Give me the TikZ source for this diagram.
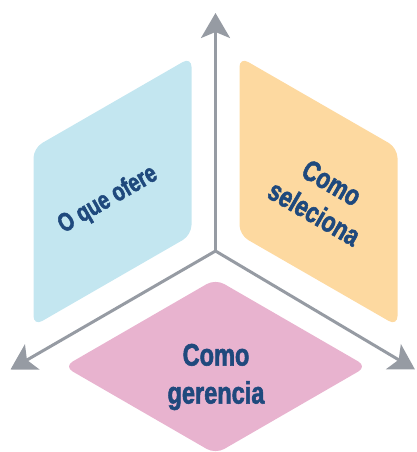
\documentclass[tikz,border=0pt]{standalone}
\usepackage{fontspec}
\newfontfamily\cond[FakeStretch=0.76,FakeBold=1.8]{Liberation Sans Bold}
\usetikzlibrary{arrows.meta}
\definecolor{faceblue}{RGB}{195,230,240}
\definecolor{faceorange}{RGB}{253,217,160}
\definecolor{facepink}{RGB}{232,179,207}
\definecolor{axisgray}{RGB}{150,155,163}
\definecolor{textblue}{RGB}{31,73,125}
\tikzset{
  face/.style={rounded corners=10pt, draw=none},
  axis/.style={draw=axisgray, line width=3pt, -{Stealth[length=25pt,width=29pt,inset=6pt]}},
  lbl/.style={text=textblue, align=center, inner sep=0pt},
}
\begin{document}
\begin{tikzpicture}[x=1pt,y=-1pt]
\useasboundingbox (0,0) rectangle (417,452);
\clip (0,0) rectangle (417,452);
% faces
\fill[face, faceblue] (191.5,57) -- (191.5,235) -- (33.5,326) -- (33.5,148) -- cycle;
\fill[face, faceorange] (239.5,57) -- (397.5,148) -- (397.5,326) -- (239.5,235) -- cycle;
\fill[face, facepink] (215.5,279) -- (367,366.5) -- (215.5,454) -- (64,366.5) -- cycle;
% axes
\coordinate (o) at (215.5,251);
\coordinate (up) at (215.5,13);
\coordinate (lt) at (10.5,369.5);
\coordinate (rt) at (415,369.5);
\draw[axis] (o) -- (up);
\draw[axis] (o) -- (lt);
\draw[axis] (o) -- (rt);
% labels
\node[lbl, rotate=30, font=\cond\fontsize{26}{30}\selectfont] (t1) at (108,200) {O que ofere};
\node[lbl, rotate=-30, font=\cond\fontsize{29}{35}\selectfont] (t2) at (323,198) {Como\\seleciona};
\node[lbl, font=\cond\fontsize{31}{38}\selectfont] (t3) at (216,377) {Como\\gerencia};
\end{tikzpicture}
\end{document}
